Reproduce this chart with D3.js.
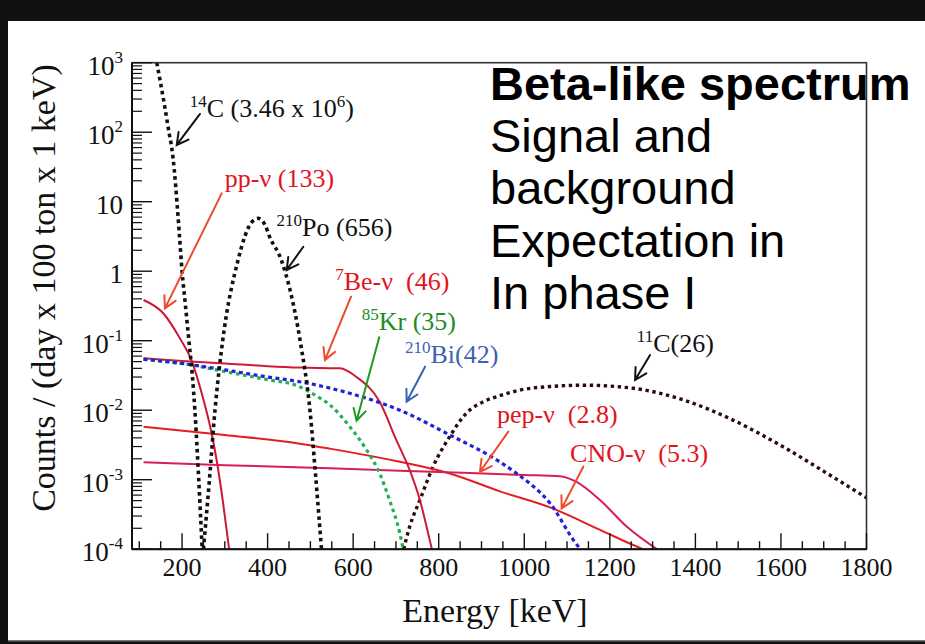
<!DOCTYPE html>
<html><head><meta charset="utf-8">
<script src="https://cdn.jsdelivr.net/npm/d3@7"></script>
<style>html,body{margin:0;padding:0;background:#111;overflow:hidden}svg{display:block}text{white-space:pre}</style>
</head><body>
<svg id="c" width="925" height="644"></svg>
<script>
// ---------- data (energy in keV, counts / (day x 100 ton x 1 keV)) ----------
const c14E = [141, 150, 160, 170, 176, 182, 188, 194, 200, 208, 216, 224, 230, 239, 247];
const c14V = [1000, 500, 224, 95, 59, 28, 10, 3.2, 1, 0.32, 0.1, 0.032, 0.01, 0.001, 0.0001];

const po210E = [250, 264, 277, 295, 331, 347, 362, 378, 395, 404, 432, 476, 499, 513, 526];
const po210V = [1e-4, 1e-3, 1e-2, 0.1, 1.45, 3.2, 5.0, 5.75, 4.5, 3.2, 1.45, 0.1, 0.01, 1e-3, 1e-4];

const ppE = [110, 156, 195, 222, 246, 269, 282, 296, 310];
const ppV = [0.385, 0.248, 0.108, 0.052, 0.0175, 0.0047, 0.00174, 0.00046, 0.0001];

const be7E = [110, 200, 300, 400, 475, 569, 608, 662, 701, 732, 756, 779, 784];
const be7V = [0.056, 0.051, 0.047, 0.043, 0.041, 0.040, 0.030, 0.0132, 0.0037, 0.00138, 0.00051, 0.000135, 0.0001];

const bi210E = [110, 200, 300, 400, 475, 592, 709, 826, 943, 982, 1060, 1126, 1132];
const bi210V = [0.054, 0.047, 0.038, 0.030, 0.0257, 0.0175, 0.01, 0.0044, 0.0018, 0.00123, 0.00046, 0.00011, 0.0001];

const kr85E = [110, 200, 300, 400, 470, 510, 545, 592, 631, 662, 685, 709, 717];
const kr85V = [0.054, 0.047, 0.036, 0.0275, 0.0224, 0.0166, 0.012, 0.0058, 0.0027, 0.00123, 0.00051, 0.00017, 0.0001];

const cnoE = [110, 300, 475, 545, 700, 826, 943, 1060, 1177, 1240, 1277];
const cnoV = [0.0058, 0.0044, 0.0033, 0.0028, 0.00186, 0.00123, 0.00068, 0.0004, 0.00019, 0.000126, 0.0001];

const pepE = [110, 300, 545, 800, 1000, 1083, 1122, 1177, 1240, 1310];
const pepV = [0.00178, 0.00162, 0.00146, 0.00129, 0.00117, 0.00112, 0.00093, 0.00051, 0.00021, 0.0001];

const c11E = [718, 732, 756, 787, 826, 865, 904, 943, 1000, 1060, 1137, 1254, 1371, 1488, 1604, 1721, 1800];
const c11V = [0.0001, 0.00021, 0.00051, 0.00155, 0.0042, 0.0091, 0.0132, 0.0162, 0.02, 0.0219, 0.0229, 0.0207, 0.0141, 0.0072, 0.003, 0.0011, 0.00055];

const xTickValues = [200, 400, 600, 800, 1000, 1200, 1400, 1600, 1800];
const yTickExponents = [-4, -3, -2, -1, 0, 1, 2, 3];

const xLabel = "Energy [keV]";
const yLabel = "Counts / (day x 100 ton x 1 keV)";
const titleLines = ["Beta-like spectrum", "Signal and", "background", "Expectation in", "In phase I"];

// ---------- layout ----------
const svg = d3.select("#c");
const L = 132, R = 866.5, T = 62.7, B = 549.2;
const x = d3.scaleLinear().domain([83, 1800]).range([L, R]);
const y = d3.scaleLog().domain([1e-4, 1e3]).range([B, T]);
const serif = "'Liberation Serif','Times New Roman',serif";
const sans = "'Liberation Sans',Arial,sans-serif";

svg.append("rect").attr("x", 8).attr("y", 21).attr("width", 917).attr("height", 620).attr("fill", "#fff");
svg.append("rect").attr("x", 8).attr("y", 640).attr("width", 917).attr("height", 1.5).attr("fill", "#777");

svg.append("defs").append("clipPath").attr("id", "pc")
  .append("rect").attr("x", L).attr("y", T).attr("width", R - L).attr("height", B - T);

// series
const series = [
  {E: c11E, V: c11V, color: "#2a0c0c", w: 3.4, dash: "3.4 3.6"},
  {E: cnoE, V: cnoV, color: "#e41d22", w: 2},
  {E: pepE, V: pepV, color: "#d81e55", w: 2},
  {E: be7E, V: be7V, color: "#cf1a36", w: 2},
  {E: kr85E, V: kr85V, color: "#22b050", w: 3.2, dash: "3.6 3.6"},
  {E: bi210E, V: bi210V, color: "#1f22d8", w: 3.2, dash: "4 3.4"},
  {E: ppE, V: ppV, color: "#cc1838", w: 2},
  {E: po210E, V: po210V, color: "#111", w: 3.6, dash: "3.6 3.6"},
  {E: c14E, V: c14V, color: "#111", w: 3.6, dash: "3.6 3.6"}
];
const line = d3.line().x(d => x(d[0])).y(d => y(d[1])).curve(d3.curveMonotoneX);
const gS = svg.append("g").attr("clip-path", "url(#pc)");
series.forEach(s => {
  const pts = s.E.map((e, i) => [e, s.V[i]]);
  gS.append("path").attr("d", line(pts))
    .attr("fill", "none").attr("stroke", s.color).attr("stroke-width", s.w)
    .attr("stroke-dasharray", s.dash || null);
});

// frame
svg.append("rect").attr("x", L).attr("y", T).attr("width", R - L).attr("height", B - T)
  .attr("fill", "none").attr("stroke", "#333").attr("stroke-width", 1.6);
svg.append("line").attr("x1", L).attr("x2", L).attr("y1", T).attr("y2", B).attr("stroke", "#111").attr("stroke-width", 2);
svg.append("line").attr("x1", L).attr("x2", R).attr("y1", B).attr("y2", B).attr("stroke", "#111").attr("stroke-width", 2);

// x ticks
const gx = svg.append("g");
d3.range(100, 1800, 50).filter(v => v % 200 !== 0).forEach(v => {
  gx.append("line").attr("x1", x(v)).attr("x2", x(v)).attr("y1", B).attr("y2", B - 8).attr("stroke", "#111").attr("stroke-width", 1.4);
});
xTickValues.forEach(v => {
  gx.append("line").attr("x1", x(v)).attr("x2", x(v)).attr("y1", B).attr("y2", B - 16).attr("stroke", "#111").attr("stroke-width", 1.4);
  gx.append("text").attr("x", x(v)).attr("y", 576).attr("text-anchor", "middle")
    .attr("font-family", serif).attr("font-size", 26).attr("fill", "#111").text(v);
});

// y ticks
const gy = svg.append("g");
yTickExponents.forEach(e => {
  const v = Math.pow(10, e);
  gy.append("line").attr("x1", L).attr("x2", L + 20).attr("y1", y(v)).attr("y2", y(v)).attr("stroke", "#111").attr("stroke-width", 1.4);
  if (e < 3) {
    for (let k = 2; k <= 9; k++) {
      gy.append("line").attr("x1", L).attr("x2", L + 10).attr("y1", y(k * v)).attr("y2", y(k * v)).attr("stroke", "#111").attr("stroke-width", 1.2);
    }
  }
  const t = gy.append("text").attr("x", 123).attr("y", y(v) + 12).attr("text-anchor", "end")
    .attr("font-family", serif).attr("font-size", 27).attr("fill", "#111");
  if (e === 0) t.text("1");
  else if (e === 1) t.text("10");
  else {
    t.append("tspan").text("10");
    t.append("tspan").attr("font-size", 17).attr("dy", -12).text(String(e));
  }
});

// axis labels
svg.append("text").attr("x", 495).attr("y", 622).attr("text-anchor", "middle")
  .attr("font-family", serif).attr("font-size", 34).attr("fill", "#111").text(xLabel);
svg.append("text").attr("transform", "translate(55,288) rotate(-90)").attr("text-anchor", "middle")
  .attr("font-family", serif).attr("font-size", 34).attr("fill", "#111").text(yLabel);

// annotations (anchored in data coordinates)
const annotations = [
  {parts: [["14", 1], ["C (3.46 x 10", 0], ["6", 1], [")", 0]], at: [218, 168], color: "#111",
   arrow: [[242, 183], [187.5, 65.5]], arrowColor: "#111"},
  {parts: [["pp-ν (133)", 0]], at: [300, 16.4], color: "#e3141c",
   arrow: [[292.7, 13.2], [160, 0.292]], arrowColor: "#ee4a2c"},
  {parts: [["210", 1], ["Po (656)", 0]], at: [421, 3.2], color: "#111",
   arrow: [[483.5, 2.25], [444.6, 1.04]], arrowColor: "#111"},
  {parts: [["7", 1], ["Be-ν  (46)", 0]], at: [558, 0.536], color: "#e3141c",
   arrow: [[595, 0.43], [534, 0.0527]], arrowColor: "#ee4a2c"},
  {parts: [["85", 1], ["Kr (35)", 0]], at: [620, 0.1425], color: "#1e8c22",
   arrow: [[661, 0.112], [608, 0.00706]], arrowColor: "#1e9a22"},
  {parts: [["210", 1], ["Bi(42)", 0]], at: [721, 0.0473], color: "#3a62b2",
   arrow: [[768, 0.0423], [725, 0.01325]], arrowColor: "#3a62b2"},
  {parts: [["11", 1], ["C(26)", 0]], at: [1263, 0.0695], color: "#111",
   arrow: [[1294, 0.0622], [1259, 0.0272]], arrowColor: "#111"},
  {parts: [["pep-ν  (2.8)", 0]], at: [936, 0.0065], color: "#e3141c",
   arrow: [[962.7, 0.00491], [896.5, 0.0013]], arrowColor: "#ee4a2c"},
  {parts: [["CNO-ν  (5.3)", 0]], at: [1107, 0.00182], color: "#e3141c",
   arrow: [[1138, 0.00154], [1087.5, 0.000387]], arrowColor: "#ee4a2c"}
];
const gA = svg.append("g");
annotations.forEach(a => {
  const t = gA.append("text").attr("x", x(a.at[0])).attr("y", y(a.at[1]))
    .attr("font-family", serif).attr("font-size", 26).attr("fill", a.color)
    .attr("xml:space", "preserve");
  let raised = false;
  a.parts.forEach(([s, sup]) => {
    const sp = t.append("tspan").text(s);
    if (sup && !raised) { sp.attr("font-size", 17).attr("dy", -10); raised = true; }
    else if (!sup && raised) { sp.attr("dy", 10); raised = false; }
    else if (sup) sp.attr("font-size", 17);
  });
  const x1 = x(a.arrow[0][0]), y1 = y(a.arrow[0][1]), x2 = x(a.arrow[1][0]), y2 = y(a.arrow[1][1]);
  const ang = Math.atan2(y2 - y1, x2 - x1), hl = 13, ha = 0.5;
  gA.append("path")
    .attr("d", `M${x1},${y1}L${x2},${y2}M${x2 - hl * Math.cos(ang - ha)},${y2 - hl * Math.sin(ang - ha)}L${x2},${y2}L${x2 - hl * Math.cos(ang + ha)},${y2 - hl * Math.sin(ang + ha)}`)
    .attr("fill", "none").attr("stroke", a.arrowColor).attr("stroke-width", 2).attr("stroke-linecap", "round");
});

// overlay text
const gT = svg.append("g");
titleLines.forEach((s, i) => {
  gT.append("text").attr("x", 490).attr("y", 100 + i * 52.2)
    .attr("font-family", sans).attr("font-size", 47).attr("font-weight", i === 0 ? "bold" : "normal")
    .attr("fill", "#000").text(s);
});
</script>
</body></html>
